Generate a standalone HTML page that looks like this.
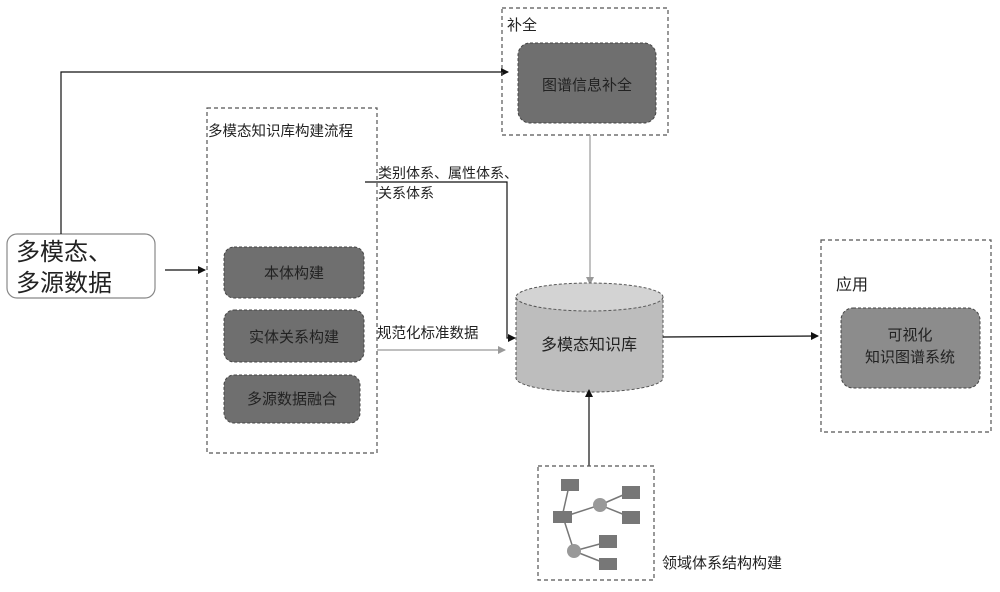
<!DOCTYPE html>
<html><head><meta charset="utf-8"><style>
body{margin:0;background:#fff}
text{font-family:"Liberation Sans","Noto Sans CJK SC",sans-serif;fill:#222}
</style></head><body>
<svg width="1000" height="587" viewBox="0 0 1000 587" xmlns="http://www.w3.org/2000/svg">
<defs>
<marker id="a" markerWidth="8" markerHeight="8" refX="7" refY="4" orient="auto" markerUnits="userSpaceOnUse"><path d="M0,0 L8,4 L0,8 z" fill="#111"/></marker>
<marker id="g" markerWidth="8" markerHeight="8" refX="7" refY="4" orient="auto" markerUnits="userSpaceOnUse"><path d="M0,0 L8,4 L0,8 z" fill="#999"/></marker>
</defs>
<!-- source -->
<rect x="7" y="234" width="148" height="64" rx="10" fill="#fff" stroke="#888" stroke-width="1.2"/>
<text x="16" y="260" font-size="24">多模态、</text>
<text x="16" y="291" font-size="24">多源数据</text>
<polyline points="61,234 61,72 508,72" fill="none" stroke="#111" stroke-width="1.2" marker-end="url(#a)"/>
<line x1="165" y1="270" x2="205" y2="270" stroke="#111" stroke-width="1.2" marker-end="url(#a)"/>
<!-- completion -->
<rect x="502" y="8" width="166" height="127" fill="none" stroke="#555" stroke-width="1.2" stroke-dasharray="4,3"/>
<text x="507" y="30" font-size="15">补全</text>
<rect x="518" y="43" width="138" height="80" rx="12" fill="#6f6f6f" stroke="#444" stroke-dasharray="3,2"/>
<text x="587" y="90" font-size="15" text-anchor="middle">图谱信息补全</text>
<line x1="590" y1="135" x2="590" y2="284" stroke="#999" stroke-width="1.2" marker-end="url(#g)"/>
<!-- flow -->
<rect x="207" y="108" width="170" height="345" fill="none" stroke="#555" stroke-width="1.2" stroke-dasharray="4,3"/>
<text x="208" y="136" font-size="14.5">多模态知识库构建流程</text>
<rect x="224" y="247" width="140" height="51" rx="10" fill="#6f6f6f" stroke="#444" stroke-dasharray="3,2"/>
<text x="294" y="278" font-size="15" text-anchor="middle">本体构建</text>
<rect x="224" y="310" width="140" height="52" rx="10" fill="#6f6f6f" stroke="#444" stroke-dasharray="3,2"/>
<text x="294" y="342" font-size="15" text-anchor="middle">实体关系构建</text>
<rect x="224" y="375" width="136" height="48" rx="10" fill="#6f6f6f" stroke="#444" stroke-dasharray="3,2"/>
<text x="292" y="404" font-size="15" text-anchor="middle">多源数据融合</text>
<text x="378" y="178" font-size="14">类别体系、属性体系、</text>
<text x="378" y="198" font-size="14">关系体系</text>
<polyline points="365,182 507,182 507,338 515,338" fill="none" stroke="#111" stroke-width="1.2" marker-end="url(#a)"/>
<text x="377" y="338" font-size="14.5">规范化标准数据</text>
<line x1="377" y1="350" x2="505" y2="350" stroke="#999" stroke-width="1.2" marker-end="url(#g)"/>
<!-- cylinder -->
<path d="M516,297 L516,378 A73,14 0 0 0 663,378 L663,297" fill="#bdbdbd" stroke="#555" stroke-dasharray="3,2"/>
<ellipse cx="589.5" cy="297" rx="73.5" ry="14" fill="#d3d3d3" stroke="#555" stroke-dasharray="3,2"/>
<text x="589" y="350" font-size="16" text-anchor="middle">多模态知识库</text>
<line x1="663" y1="337" x2="818" y2="336" stroke="#111" stroke-width="1.2" marker-end="url(#a)"/>
<!-- app -->
<rect x="821" y="240" width="170" height="192" fill="none" stroke="#555" stroke-width="1.2" stroke-dasharray="4,3"/>
<text x="836" y="290" font-size="16">应用</text>
<rect x="841" y="308" width="139" height="80" rx="12" fill="#8c8c8c" stroke="#444" stroke-dasharray="3,2"/>
<text x="910" y="340" font-size="15" text-anchor="middle">可视化</text>
<text x="910" y="362" font-size="15" text-anchor="middle">知识图谱系统</text>
<!-- domain -->
<line x1="589" y1="466" x2="589" y2="390" stroke="#111" stroke-width="1.2" marker-end="url(#a)"/>
<rect x="538" y="466" width="116" height="114" fill="none" stroke="#555" stroke-width="1.2" stroke-dasharray="4,3"/>
<text x="662" y="568" font-size="15">领域体系结构构建</text>
<g stroke="#777" stroke-width="1.5">
<line x1="569" y1="486" x2="562" y2="517"/><line x1="563" y1="517" x2="600" y2="505"/>
<line x1="600" y1="505" x2="630" y2="492"/><line x1="600" y1="505" x2="630" y2="517"/>
<line x1="563" y1="517" x2="574" y2="551"/><line x1="574" y1="551" x2="607" y2="542"/><line x1="574" y1="551" x2="607" y2="564"/>
</g>
<g fill="#777">
<rect x="561" y="479" width="18" height="12"/><rect x="553" y="511" width="19" height="12"/>
<rect x="622" y="486" width="18" height="13"/><rect x="622" y="511" width="18" height="13"/>
<rect x="599" y="535" width="18" height="13"/><rect x="599" y="558" width="18" height="12"/>
</g>
<g fill="#999"><circle cx="600" cy="505" r="7"/><circle cx="574" cy="551" r="7"/></g>
</svg>
</body></html>
